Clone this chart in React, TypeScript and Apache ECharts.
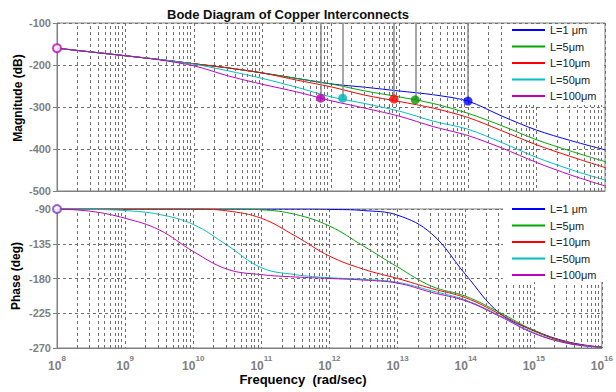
import React, { useEffect, useRef } from 'react';
import * as echarts from 'echarts';

// Frequency as log10(rad/sec)
const freqExp = [8, 8.5, 9, 9.5, 10, 10.5, 11, 11.5, 12, 12.5, 13, 13.5, 14, 14.5, 15, 15.5, 16];
const xTickExp = [8, 9, 10, 11, 12, 13, 14, 15, 16];

const seriesNames = ['L=1 μm', 'L=5μm', 'L=10μm', 'L=50μm', 'L=100μm'];

// Magnitude (dB)
const magL1 = [-160, -169, -178, -187, -197, -207, -219, -232, -245, -253, -262, -271, -286, -322, -355, -380, -402];
const magL5 = [-160, -169, -178, -187, -197, -207, -219, -232, -245, -262, -276, -292, -315, -345, -378, -405, -430];
const magL10 = [-160, -169, -178, -187, -197, -207, -219, -236, -252, -272, -287, -303, -325, -357, -390, -418, -444];
const magL50 = [-160, -169, -178, -187, -198, -214, -232, -253, -276, -292, -310, -334, -353, -385, -420, -449, -474];
const magL100 = [-160, -169, -178, -188, -202, -226, -246, -264, -285, -303, -322, -347, -368, -398, -432, -462, -488];

// Phase (deg)
const phL1 = [-90, -90, -90, -90, -90, -90, -90, -90, -90.5, -92, -98, -122, -175, -225, -247, -262, -269];
const phL5 = [-90, -90, -90, -90, -90, -90, -91, -97, -112, -138, -165, -190, -203, -224, -247, -263, -269];
const phL10 = [-90, -90, -90, -90, -90, -92.5, -102, -125, -151, -168, -180, -193, -205, -226, -248, -263, -269];
const phL50 = [-90, -90.5, -92, -97, -110, -137, -166, -175, -179, -181, -185, -196, -208, -228, -250, -264, -269];
const phL100 = [-90, -93, -102, -117, -145, -168, -175, -178, -180, -182, -186, -198, -209, -229, -251, -264, -269];

// Highlighted points on magnitude plot (L=1 .. L=100)
const markerExp = [14.0, 13.23, 12.92, 12.17, 11.85];
const markerMag = [-286, -283, -281, -279, -279];

const magTicks = [-500, -400, -300, -200, -100];
const phaseTicks = [-270, -225, -180, -135, -90];

const lineColors = ['#0000FF', '#00A800', '#FF0000', '#00C0C0', '#C000C0'];
const markerColors = ['#0000FF', '#009900', '#FF0000', '#00B4B4', '#B400B4'];

const FONT = '"Liberation Sans", Arial, sans-serif';
const GRID_COLOR = '#707070';

export default function App() {
  const ref = useRef<HTMLDivElement>(null);

  useEffect(() => {
    if (!ref.current) return;
    const chart = echarts.init(ref.current, undefined, { renderer: 'svg' });

    const mags = [magL1, magL5, magL10, magL50, magL100];
    const phs = [phL1, phL5, phL10, phL50, phL100];
    const toPts = (ys: number[]) => freqExp.map((x, i) => [x, ys[i]]);

    const minorLines: any[] = [];
    for (let d = xTickExp[0]; d < xTickExp[xTickExp.length - 1]; d++) {
      for (let k = 2; k <= 9; k++) minorLines.push({ xAxis: d + Math.log10(k) });
    }
    const minorGrid = (idx: number) => ({
      type: 'line',
      name: 'minorgrid' + idx,
      xAxisIndex: idx,
      yAxisIndex: idx,
      data: [],
      silent: true,
      z: 1,
      markLine: {
        silent: true,
        symbol: ['none', 'none'],
        label: { show: false },
        lineStyle: { type: [3, 3], color: GRID_COLOR, width: 1 },
        emphasis: { disabled: true },
        data: minorLines,
      },
    });

    const axisLabelStyle = { color: '#808080', fontWeight: 'bold', fontSize: 11, fontFamily: FONT };

    const yAxisCommon = {
      type: 'value',
      axisLine: { show: true, lineStyle: { color: '#808080' } },
      axisTick: { show: true, length: 4, lineStyle: { color: '#808080' } },
      splitLine: { show: true, lineStyle: { type: [3, 3], color: GRID_COLOR } },
      axisLabel: { ...axisLabelStyle, margin: 6 },
    };

    const option: any = {
      animation: false,
      backgroundColor: '#ffffff',
      title: {
        text: 'Bode Diagram of Copper Interconnects',
        left: 162,
        top: 3,
        textStyle: { fontSize: 13, fontWeight: 'bold', color: '#111', fontFamily: FONT },
      },
      grid: [
        { left: 57, top: 23, width: 548, height: 168, show: true, borderColor: '#808080', borderWidth: 1 },
        { left: 57, top: 209, width: 548, height: 139, show: true, borderColor: '#808080', borderWidth: 1 },
      ],
      xAxis: [0, 1].map((idx) => ({
        type: 'value',
        gridIndex: idx,
        min: xTickExp[0],
        max: xTickExp[xTickExp.length - 1],
        interval: 1,
        axisLine: { show: true, lineStyle: { color: '#808080' } },
        axisTick: { show: false },
        splitLine: { show: true, lineStyle: { type: [3, 3], color: GRID_COLOR } },
        axisLabel: idx === 0
          ? { show: false }
          : {
              show: true,
              margin: 6,
              formatter: (v: number) => `{b|10}{s|${Math.round(v)}}`,
              rich: {
                b: { ...axisLabelStyle, fontSize: 12, verticalAlign: 'bottom', lineHeight: 18 },
                s: { ...axisLabelStyle, fontSize: 8, verticalAlign: 'top', lineHeight: 18 },
              },
            },
      })),
      yAxis: [
        { ...yAxisCommon, gridIndex: 0, min: magTicks[0], max: magTicks[magTicks.length - 1], interval: 100 },
        { ...yAxisCommon, gridIndex: 1, min: phaseTicks[0], max: phaseTicks[phaseTicks.length - 1], interval: 45 },
      ],
      legend: [23, 202].map((top) => ({
        data: seriesNames,
        orient: 'vertical',
        left: 512,
        top,
        z: 20,
        icon: 'rect',
        itemWidth: 33,
        itemHeight: 2,
        itemGap: 2.5,
        padding: 0,
        textStyle: { fontSize: 11, color: '#222', fontFamily: FONT, lineHeight: 14 },
        selectedMode: false,
      })),
      graphic: [
        {
          type: 'rect', z: 15, silent: true,
          shape: { x: 503, y: 24, width: 101, height: 81 },
          style: { fill: '#ffffff' },
        },
        {
          type: 'rect', z: 15, silent: true,
          shape: { x: 503, y: 201, width: 101, height: 81 },
          style: { fill: '#ffffff' },
        },
        {
          type: 'text', x: 18, y: 98, rotation: Math.PI / 2,
          style: { text: 'Magnitude (dB)', textAlign: 'center', textVerticalAlign: 'middle', font: `bold 12px ${FONT}`, fill: '#000' },
        },
        {
          type: 'text', x: 16, y: 276, rotation: Math.PI / 2,
          style: { text: 'Phase (deg)', textAlign: 'center', textVerticalAlign: 'middle', font: `bold 12px ${FONT}`, fill: '#000' },
        },
        {
          type: 'text', x: 303, y: 379,
          style: { text: 'Frequency  (rad/sec)', textAlign: 'center', textVerticalAlign: 'middle', font: `bold 13px ${FONT}`, fill: '#000' },
        },
      ],
      series: [
        minorGrid(0),
        minorGrid(1),
        ...mags.map((m, i) => ({
          type: 'line', name: seriesNames[i], xAxisIndex: 0, yAxisIndex: 0,
          data: toPts(m), showSymbol: false, smooth: 0.3, z: 3,
          lineStyle: { width: 1, color: lineColors[i] }, itemStyle: { color: lineColors[i] },
        })),
        ...phs.map((p, i) => ({
          type: 'line', name: seriesNames[i], xAxisIndex: 1, yAxisIndex: 1,
          data: toPts(p), showSymbol: false, smooth: 0.4, z: 3,
          lineStyle: { width: 1, color: lineColors[i] }, itemStyle: { color: lineColors[i] },
        })),
        {
          type: 'scatter', name: 'markers', xAxisIndex: 0, yAxisIndex: 0, z: 5,
          symbolSize: 9,
          data: markerExp.map((x, i) => ({ value: [x, markerMag[i]], itemStyle: { color: markerColors[i] } })),
          markLine: {
            silent: true,
            symbol: ['none', 'none'],
            label: { show: false },
            lineStyle: { type: 'solid', color: '#8a8a8a', width: 1.5 },
            emphasis: { disabled: true },
            data: markerExp.map((x, i) => [{ coord: [x, markerMag[i]] }, { coord: [x, magTicks[magTicks.length - 1]] }]),
          },
        },
        {
          type: 'scatter', name: 'start-mag', xAxisIndex: 0, yAxisIndex: 0, z: 6, clip: false,
          symbol: 'emptyCircle', symbolSize: 8,
          itemStyle: { color: '#C000C0', borderWidth: 1 },
          data: [[freqExp[0], magL100[0]]],
        },
        {
          type: 'scatter', name: 'start-phase', xAxisIndex: 1, yAxisIndex: 1, z: 6, clip: false,
          symbol: 'emptyCircle', symbolSize: 8,
          itemStyle: { color: '#8033CC', borderWidth: 1 },
          data: [[freqExp[0], phL100[0]]],
        },
      ],
    };

    chart.setOption(option);
    return () => chart.dispose();
  }, []);

  return <div ref={ref} style={{ position: 'fixed', left: 0, top: 0, width: 616, height: 392 }} />;
}
